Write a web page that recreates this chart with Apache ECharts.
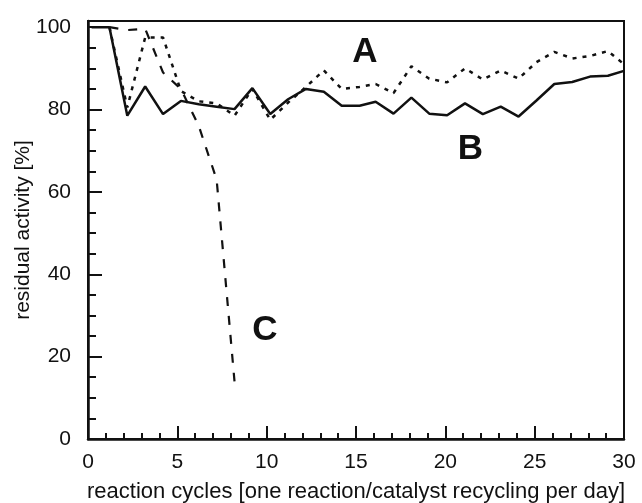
<!DOCTYPE html>
<html>
<head>
<meta charset="utf-8">
<script src="https://cdn.jsdelivr.net/npm/echarts@6/dist/echarts.min.js"></script>
<style>
html,body{margin:0;padding:0;background:#fff;}
#chart{width:642px;height:503px;}
</style>
</head>
<body>
<div id="chart"></div>
<script>
// reaction cycle positions
var cycles = [0.2, 1.2, 2.2, 3.2, 4.2, 5.2, 6.2, 7.2, 8.2, 9.2, 10.2, 11.2, 12.2, 13.2, 14.2, 15.2,
              16.1, 17.1, 18.1, 19.1, 20.1, 21.1, 22.1, 23.1, 24.1, 25.1, 26.1, 27.1, 28.1, 29.1, 30];
// series B (solid)
var seriesB = [100, 100, 78.5, 85.6, 78.9, 82.1, 81.3, 80.7, 80.1, 85.2, 78.9, 82.5, 85, 84.3, 80.9, 80.9,
               81.9, 79, 82.9, 79, 78.6, 81.5, 78.9, 80.7, 78.3, 82.2, 86.2, 86.7, 88, 88.2, 89.4];
// series A (dotted), starts at cycle index 1
var seriesA = [null, 100, 80.5, 97.5, 97.5, 84.5, 82, 81.5, 78.5, 85, 77.5, 81.7, 85.5, 89.5, 85, 85.5,
               86.2, 84, 90.5, 87.5, 86.6, 90, 87.3, 89.5, 87.5, 91.5, 94, 92.4, 93, 94.2, 91];
// series C (dashed), cycle index 1..8
var seriesC = [null, 100, 99.3, 99.6, 89, 85, 76, 63, 14];
var yTicks = [0, 20, 40, 60, 80, 100];
var xTicks = [0, 5, 10, 15, 20, 25, 30];
var curveLabels = ['A', 'B', 'C'];
var labelAt = [[15.5, 93.8], [21.4, 70.4], [9.9, 26.3]];

function pairs(xs, ys) {
  var out = [];
  for (var i = 0; i < ys.length; i++) {
    if (ys[i] !== null) out.push([xs[i], ys[i]]);
  }
  return out;
}

var chart = echarts.init(document.getElementById('chart'), null, {renderer: 'canvas'});
var FONT = '"Liberation Sans", Arial, sans-serif';
var INK = '#111';

chart.setOption({
  backgroundColor: '#fff',
  animation: false,
  grid: {left: 88, right: 18, top: 21, bottom: 64, show: true, borderColor: INK, borderWidth: 2,
         backgroundColor: 'transparent', containLabel: false, outerBoundsMode: 'none'},
  xAxis: {
    type: 'value', min: xTicks[0], max: xTicks[xTicks.length - 1], interval: 5,
    axisLine: {show: true, lineStyle: {color: INK, width: 2.5}},
    axisTick: {show: true, inside: true, length: 13, lineStyle: {color: INK, width: 2}},
    minorTick: {show: true, splitNumber: 5, length: 6, lineStyle: {color: INK, width: 2}},
    splitLine: {show: false},
    axisLabel: {color: INK, fontSize: 21, fontFamily: FONT, margin: 13},
    name: 'reaction cycles [one reaction/catalyst recycling per day]',
    nameLocation: 'middle', nameGap: 42, nameMoveOverlap: false,
    nameTextStyle: {color: INK, fontSize: 22, fontFamily: FONT}
  },
  yAxis: {
    type: 'value', min: 0, max: 101.5, interval: 20,
    axisLine: {show: true, lineStyle: {color: INK, width: 2.5}},
    axisTick: {show: true, inside: true, length: 14, lineStyle: {color: INK, width: 2}},
    minorTick: {show: true, splitNumber: 4, length: 8, lineStyle: {color: INK, width: 2}},
    splitLine: {show: false},
    axisLabel: {color: INK, fontSize: 21, fontFamily: FONT, margin: 17,
      formatter: function (v) { return yTicks.indexOf(v) >= 0 ? String(v) : ''; }},
    name: 'residual activity [%]',
    nameLocation: 'middle', nameGap: 54, nameMoveOverlap: false,
    nameTextStyle: {color: INK, fontSize: 21, fontFamily: FONT}
  },
  series: [
    {name: 'A', type: 'line', data: pairs(cycles, seriesA), showSymbol: false, symbol: 'none',
     lineStyle: {color: INK, width: 2.5, type: [4, 6]}, z: 2},
    {name: 'C', type: 'line', data: pairs(cycles, seriesC), showSymbol: false, symbol: 'none',
     lineStyle: {color: INK, width: 2.2, type: [9, 10]}, z: 3},
    {name: 'B', type: 'line', data: pairs(cycles, seriesB), showSymbol: false, symbol: 'none',
     lineStyle: {color: INK, width: 2.5}, z: 4}
  ]
});

var texts = curveLabels.map(function (t, i) {
  var p = chart.convertToPixel({gridIndex: 0}, labelAt[i]);
  return {type: 'text', x: p[0], y: p[1],
    style: {text: t, fill: INK, font: 'bold 35px ' + FONT, textAlign: 'center', textVerticalAlign: 'middle'}};
});
chart.setOption({graphic: texts});
</script>
</body>
</html>
